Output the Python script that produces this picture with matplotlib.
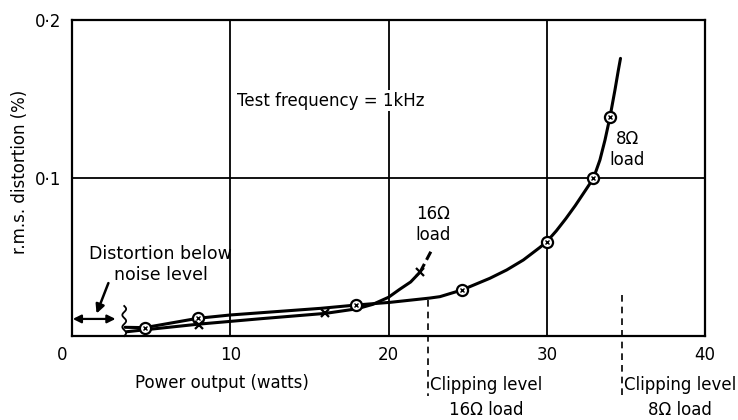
import matplotlib.pyplot as plt
import matplotlib.transforms as mtransforms
import numpy as np

# measured points, 8 ohm load (circled markers)
p8_x = [4.6, 7.95, 17.95, 24.63, 30.0, 32.95, 34.0]
p8_y = [0.0053, 0.0112, 0.0196, 0.0291, 0.0597, 0.0998, 0.1388]
# curve through the 8 ohm points
c8_x = [3.35, 4.6, 7.95, 10.0, 15.7, 17.95, 20.1, 22.6, 23.25, 24.63, 26.4, 27.47,
        28.52, 29.57, 30.0, 30.6, 31.2, 31.8, 32.4, 32.95, 33.36, 33.68, 34.0, 34.31,
        34.52, 34.66]
c8_y = [0.0055, 0.0053, 0.0112, 0.0133, 0.0175, 0.0196, 0.0213, 0.0240, 0.0249,
        0.0291, 0.0365, 0.0418, 0.0481, 0.0561, 0.0597, 0.0665, 0.0742, 0.0825,
        0.0915, 0.0998, 0.1114, 0.124, 0.1388, 0.1557, 0.168, 0.1757]

# measured points, 16 ohm load (x markers)
p16_x = [8.0, 16.0, 22.0]
p16_y = [0.0072, 0.0143, 0.0405]
c16_x = [3.45, 8.0, 12.0, 16.0, 18.0, 19.0, 20.0, 20.7, 21.4, 22.0]
c16_y = [0.0027, 0.0075, 0.0110, 0.0143, 0.0172, 0.0200, 0.0245, 0.0295, 0.0342, 0.0405]
# dashed continuation above last 16 ohm point
d16_x = [22.0, 22.75]
d16_y = [0.0405, 0.0548]

clip16 = 22.5
clip8 = 34.75
noise_x = 3.3

plt.rcParams['font.family'] = ['DejaVu Sans']
fig = plt.figure(figsize=(7.38, 4.2), dpi=100)
ax = fig.add_axes([72 / 738, 84 / 420, 633 / 738, 316 / 420])

ax.set_xlim(0, 40)
ax.set_ylim(0, 0.2)

# grid
for gx in [10, 20, 30]:
    ax.axvline(gx, color='k', lw=1.3, zorder=1)
ax.axhline(0.1, color='k', lw=1.3, zorder=1)

for s in ax.spines.values():
    s.set_linewidth(1.6)

ax.set_xticks([0, 10, 20, 30, 40])
ax.set_xticklabels(['0', '10', '20', '30', '40'])
ax.set_yticks([0.1, 0.2])
ax.set_yticklabels(['0·1', '0·2'])
ax.tick_params(length=0, labelsize=12)
ax.tick_params(axis='x', pad=7)
ax.tick_params(axis='y', pad=8)
lab0 = ax.get_xticklabels()[0]
lab0.set_transform(lab0.get_transform() +
                   mtransforms.ScaledTranslation(-10 / 100, 0, fig.dpi_scale_trans))

# curves
ax.plot(c8_x, c8_y, color='k', lw=2.2, zorder=3, solid_capstyle='round',
        solid_joinstyle='round')
ax.plot(c16_x, c16_y, color='k', lw=2.2, zorder=3, solid_capstyle='round',
        solid_joinstyle='round')
ax.plot(d16_x, d16_y, color='k', lw=2.2, ls=(0, (3, 1.5)), zorder=3)

ax.plot(p8_x, p8_y, 'o', ms=8, mfc='white', mec='k', mew=1.6, zorder=4)
ax.plot(p8_x, p8_y, 'x', ms=3, mec='k', mew=1.0, zorder=5)
ax.plot(p16_x, p16_y, 'x', ms=6, mec='k', mew=1.6, zorder=4)

# noise level annotation
ax.annotate('', xy=(0.05, 0.0108), xytext=(2.75, 0.0108),
            arrowprops=dict(arrowstyle='<|-|>', color='k', lw=1.6, mutation_scale=12,
                            shrinkA=0, shrinkB=0))
wy = np.linspace(0.0, 0.019, 80)
ax.plot(noise_x + 0.12 * np.sin(wy / 0.019 * 5 * np.pi), wy, color='k', lw=1.3,
        clip_on=False, zorder=3)
ax.text(5.6, 0.0455, 'Distortion below\nnoise level', ha='center', va='center',
        fontsize=12.5, multialignment='center')
ax.annotate('', xy=(1.55, 0.0142), xytext=(2.3, 0.0335),
            arrowprops=dict(arrowstyle='-|>', color='k', lw=1.8, mutation_scale=13,
                            shrinkA=0, shrinkB=0))

ax.text(10.45, 0.149, 'Test frequency = 1kHz', fontsize=12, ha='left', va='center',
        bbox=dict(facecolor='white', edgecolor='none', pad=1), zorder=2)
ax.text(22.8, 0.0705, '16Ω\nload', fontsize=12, ha='center', va='center',
        multialignment='center')
ax.text(35.1, 0.118, '8Ω\nload', fontsize=12, ha='center', va='center',
        multialignment='center')

# clipping levels
for cx, cy in [(clip16, 0.023), (clip8, 0.026)]:
    ax.plot([cx, cx], [cy, -0.038], color='k', lw=1.2, ls=(0, (4, 3)), clip_on=False)
ax.text(clip16 + 0.1, -0.0255, 'Clipping level\n16Ω load', fontsize=12, ha='left',
        va='top', multialignment='center', linespacing=1.45)
ax.text(clip8 + 0.1, -0.0255, 'Clipping level\n8Ω load', fontsize=12, ha='left',
        va='top', multialignment='center', linespacing=1.45)

fig.text(222 / 738, (420 - 383) / 420, 'Power output (watts)', fontsize=12,
         ha='center', va='center')
fig.text(20 / 738, (420 - 172) / 420, 'r.m.s. distortion (%)', fontsize=12,
         ha='center', va='center', rotation=90)

fig.savefig('out.png', dpi=100)
